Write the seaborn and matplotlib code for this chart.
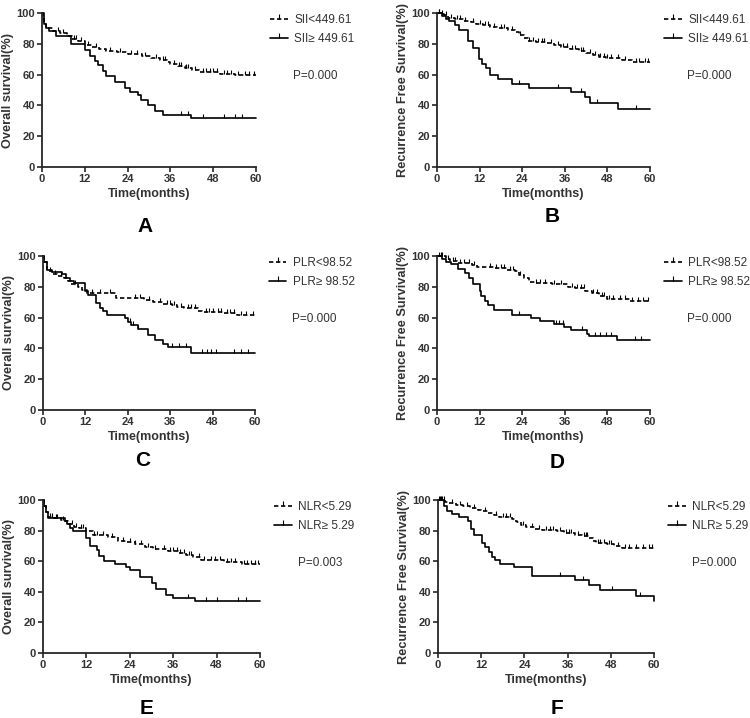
import numpy as np
import pandas as pd
import matplotlib
matplotlib.use("Agg")
import matplotlib.pyplot as plt
from matplotlib.lines import Line2D
import seaborn as sns

sns.set_style("ticks")
plt.rcParams["font.family"] = ["Liberation Sans", "DejaVu Sans"]

# ---- data (time in months, survival in %) ----
# A: overall survival by SII
A_lo_t = [0, 0.3, 0.6, 1.0, 3, 5, 7, 8.5, 10, 12, 14, 16, 18, 21, 24, 28, 30.5, 33, 35, 36, 38, 40, 42, 44, 50, 54, 60]
A_lo_s = [100, 97, 93, 90, 88, 87, 85, 83, 81.5, 79, 78, 76.5, 75.5, 74.5, 73.5, 72, 70.5, 69.5, 68.5, 67, 65.5, 64.5, 63, 61.5, 60.5, 59.5, 59.5]
A_lo_c = [4.5, 6, 9, 9.5, 11, 13, 15, 19, 22, 25, 26.5, 29, 32, 34, 34.5, 37, 38.5, 39, 40.5, 41, 43, 45, 46, 47, 48, 49, 51, 52, 53, 55, 57, 58, 59.5]
A_hi_t = [0, 0.5, 1.0, 2, 4, 8.2, 12, 13.4, 14.8, 15.6, 17, 18, 20.4, 23.2, 24.6, 26.9, 27.8, 29.7, 31.6, 34, 41.8, 60]
A_hi_s = [100, 93, 90, 88, 85, 80, 76, 72, 69, 66, 62.5, 59, 55, 51, 49, 46.5, 43.5, 40, 36.5, 34, 32, 32]
A_hi_c = [39, 41, 45, 51, 54, 56]

# B: recurrence free survival by SII
B_lo_t = [0, 1, 2, 3, 5, 7.5, 9.5, 11, 13, 15, 17, 20, 22, 23, 24.5, 25.5, 28, 31, 33, 35, 37.5, 40, 42, 44, 45.5, 47.5, 52, 55, 60]
B_lo_s = [100, 99.5, 98.5, 97, 96, 95, 94, 93, 92, 91, 90, 89, 87.5, 86, 84, 82, 81, 80.5, 79.5, 78, 76.5, 75.5, 74, 73, 71.5, 70.5, 69.5, 68.5, 68.5]
B_lo_c = [0.5, 1.5, 2.5, 4, 5.5, 6.5, 8, 10, 12, 13.5, 14.5, 16, 18, 19, 21, 23.5, 26, 27, 28.5, 29.5, 30, 32, 34, 35.5, 36.5, 38, 39, 40.5, 41, 43, 44.5, 46, 47, 48, 49, 51, 53, 56, 57, 58.5, 59.5]
B_hi_t = [0, 1.5, 2.5, 3.5, 5, 6.1, 8.7, 10, 11.7, 12.7, 13.9, 15, 17.2, 21.1, 26, 37.8, 41.8, 43, 51, 60]
B_hi_s = [100, 98, 96, 94.5, 92, 89, 82, 77, 70, 67, 64.5, 60, 57, 54, 51.5, 49, 45.5, 41.5, 37.5, 37.5]
B_hi_c = [0.5, 23, 34, 40.5, 45, 56]

# C: overall survival by PLR
C_lo_t = [0, 0.3, 1, 2.5, 4, 6, 7, 8, 10, 11, 12.5, 20.8, 28.5, 31, 34, 36.5, 38, 40, 44, 45, 51, 55, 60]
C_lo_s = [100, 96, 90, 88, 87, 85.5, 84, 82, 80, 78, 76, 73, 71.5, 70, 69, 68, 67, 66, 64.5, 63.5, 63, 61.5, 61.5]
C_lo_c = [2, 3.5, 5, 9, 14, 16, 19, 26, 27.5, 30, 33, 35, 36, 37, 39, 41, 42, 43, 46, 47, 48, 49.5, 50.5, 52, 53, 54, 56, 57.5, 59.5]
C_hi_t = [0, 0.3, 1, 2.5, 5.5, 6.5, 7.5, 8.9, 11.8, 12.7, 15.1, 16, 17, 18, 23.1, 24, 25, 26.9, 29.7, 31.6, 34, 35.5, 42, 60]
C_hi_s = [100, 96, 91, 89.5, 88, 86, 84, 82.3, 77, 74.7, 69.3, 66, 64, 61.7, 59.5, 57.4, 55, 52.4, 48.7, 45.5, 43, 41.2, 37, 37]
C_hi_c = [24.5, 25.5, 27, 36.5, 38.5, 40.5, 45, 46.5, 47.5, 49, 54, 56, 58]

# D: recurrence free survival by PLR
D_lo_t = [0, 2.4, 3.8, 5.6, 9.9, 11.3, 16, 19.7, 22, 23.2, 24.4, 25.8, 27.7, 32.4, 37, 38.9, 41.8, 43.7, 45.5, 47.9, 51.2, 54.5, 55.4, 60]
D_lo_s = [100, 98, 96.5, 95.2, 94, 93, 92, 91, 90.5, 87.7, 85.5, 83.3, 82.5, 82, 80, 79, 77, 75.8, 74, 72.3, 71.9, 71, 70.5, 70.5]
D_lo_c = [0.5, 1, 1.5, 3, 4.5, 5, 6.5, 7.5, 9, 10.5, 15, 16.5, 18, 19, 20.5, 21.5, 23.5, 28, 29, 30.5, 33, 35, 38, 39.5, 40.5, 41.5, 44, 45, 46.5, 47, 48.5, 49.5, 51.5, 53, 55, 56.5, 58, 59.5]
D_hi_t = [0, 1.5, 2.5, 4, 6, 8, 9, 10, 12, 12.5, 13.5, 14.5, 16, 21.1, 26.4, 29.1, 32.9, 35.7, 37.8, 42.3, 42.7, 50.7, 60]
D_hi_s = [100, 98, 96, 94.5, 91.5, 89, 85.5, 82, 77, 74, 71, 68, 65, 61.7, 59.5, 58, 56, 54, 52, 49.5, 48, 45.5, 45.5]
D_hi_c = [23, 33.5, 34.5, 35.5, 40.8, 44.5, 46, 47.5, 49, 55.7, 57.6]

# E: overall survival by NLR
E_lo_t = [0, 0.3, 0.8, 1.5, 3, 5, 6, 7, 8.5, 10, 12, 13.8, 17.9, 20.7, 23, 25.3, 28.1, 30.4, 34.5, 37.3, 39.6, 41.4, 43.8, 50.1, 55, 60]
E_lo_s = [100, 96, 92, 89, 88, 87, 86, 84, 82.5, 81.5, 79.5, 77.4, 75.6, 73.4, 72.3, 71.2, 69.5, 68, 66.9, 65.1, 64, 62.9, 60.8, 59.7, 58.2, 58.2]
E_lo_c = [2, 2.5, 3.5, 4, 5.5, 8, 9, 10.5, 11, 14, 15, 16.5, 19, 22, 24, 25.5, 27, 29, 31, 33.5, 35, 36, 37, 38, 39, 40.5, 41, 43, 44.5, 46.5, 47.5, 49, 51, 52, 53, 55.5, 56.5, 57.5, 58.5, 59.5]
E_hi_t = [0, 0.3, 0.8, 1.5, 6, 6.5, 7.5, 8.3, 12, 12.9, 15, 15.6, 17, 20, 23, 24, 26.7, 30, 31.3, 33.9, 35.9, 41.9, 60]
E_hi_s = [100, 96, 92, 88, 86, 84, 82, 80, 75, 70, 67, 63.5, 60, 58, 56, 54, 50, 46, 42, 38, 36, 34, 34]
E_hi_c = [40.2, 45, 48, 54, 56]

# F: recurrence free survival by NLR
F_lo_t = [0, 2, 3, 5, 7, 9, 11, 12, 14, 15.5, 17, 20.5, 21.5, 22, 23, 24.5, 27, 29, 33, 35, 38, 40, 42, 43, 44, 47, 49, 51, 60]
F_lo_s = [100, 99, 98, 97, 96, 95, 93.7, 92.6, 91.5, 90.4, 88.7, 87.5, 86.5, 85.5, 83.7, 82.1, 81.3, 80.4, 79.5, 78.4, 77.3, 76.3, 75.2, 73, 71.9, 71.2, 69.7, 68.6, 68.6]
F_lo_c = [0.3, 0.8, 1.2, 1.8, 4, 6, 8, 10, 13, 16, 18, 19, 20, 23.5, 26, 28, 30, 31, 32, 34, 35.5, 36.5, 37, 39, 40.5, 41, 41.5, 44.5, 45, 46, 47.5, 48, 50, 52, 53, 55, 57, 58.5, 59.5]
F_hi_t = [0, 1.8, 2.5, 3.9, 5.7, 8.3, 9.3, 9.9, 12.2, 13.1, 14.1, 15, 15.7, 17.3, 21, 26.1, 38.1, 41.9, 45.1, 55, 60]
F_hi_s = [100, 96, 93, 91, 89, 86, 81, 77, 72, 69, 66, 63, 60.5, 58, 56, 50.5, 47.5, 44.5, 41, 37, 34]
F_hi_c = [0.5, 34, 40.4, 48.2, 56.1]

legend_labels = {
    "SII": ["SII<449.61", "SII\u2265 449.61"],
    "PLR": ["PLR<98.52", "PLR\u2265 98.52"],
    "NLR": ["NLR<5.29", "NLR\u2265 5.29"],
}
p_values = ["P=0.000", "P=0.000", "P=0.000", "P=0.000", "P=0.003", "P=0.000"]
ylabels = ["Overall survival(%)", "Recurrence Free Survival(%)"]
panel_letters = ["A", "B", "C", "D", "E", "F"]

DASH = (0, (2.6, 1.6))
TXT = "#333333"


def draw_km(ax, t, s, c, dashed):
    t = np.asarray(t, dtype=float)
    s = np.asarray(s, dtype=float)
    df = pd.DataFrame({"time": t, "surv": s})
    sns.lineplot(data=df, x="time", y="surv", ax=ax, color="black", lw=1.2,
                 drawstyle="steps-post", estimator=None, sort=False,
                 linestyle=DASH if dashed else "-", clip_on=False)
    # censor ticks sit on the curve level at their time
    c = np.asarray(c, dtype=float)
    idx = np.searchsorted(t, c, side="right") - 1
    cens = pd.DataFrame({"time": c, "surv": s[idx]})
    sns.scatterplot(data=cens, x="time", y="surv", ax=ax, marker=2, s=10,
                    color="black", linewidth=0.8, clip_on=False)


fig = plt.figure(figsize=(7.5, 7.18), dpi=100)
W, H = 750, 718

# axes boxes in pixels: left, right, top, bottom
boxes = [
    (42, 256, 13, 167), (437, 650, 13, 167),
    (43, 255, 256, 410), (437, 650, 256, 410),
    (43, 260, 500, 653), (438, 654, 500, 653),
]
letter_pos = [(145, 227), (552, 217), (143, 460), (557, 462), (147, 708), (557, 708)]

panels = [
    (A_lo_t, A_lo_s, A_lo_c, A_hi_t, A_hi_s, A_hi_c, "SII"),
    (B_lo_t, B_lo_s, B_lo_c, B_hi_t, B_hi_s, B_hi_c, "SII"),
    (C_lo_t, C_lo_s, C_lo_c, C_hi_t, C_hi_s, C_hi_c, "PLR"),
    (D_lo_t, D_lo_s, D_lo_c, D_hi_t, D_hi_s, D_hi_c, "PLR"),
    (E_lo_t, E_lo_s, E_lo_c, E_hi_t, E_hi_s, E_hi_c, "NLR"),
    (F_lo_t, F_lo_s, F_lo_c, F_hi_t, F_hi_s, F_hi_c, "NLR"),
]

for i, (lo_t, lo_s, lo_c, hi_t, hi_s, hi_c, key) in enumerate(panels):
    l, r, tp, bt = boxes[i]
    ax = fig.add_axes([l / W, 1 - bt / H, (r - l) / W, (bt - tp) / H])
    draw_km(ax, lo_t, lo_s, lo_c, dashed=True)
    draw_km(ax, hi_t, hi_s, hi_c, dashed=False)

    ax.set_xlim(0, 60)
    ax.set_ylim(0, 100)
    ax.set_xticks([0, 12, 24, 36, 48, 60])
    ax.set_yticks([0, 20, 40, 60, 80, 100])
    ax.tick_params(direction="out", length=3.5, width=1.2, labelsize=8, pad=1.5,
                   labelcolor=TXT)
    for lab in ax.get_xticklabels() + ax.get_yticklabels():
        lab.set_fontweight("bold")
    sns.despine(ax=ax)
    for sp in ("left", "bottom"):
        ax.spines[sp].set_linewidth(1.3)

    ax.set_xlabel("Time(months)", fontsize=9, fontweight="bold", labelpad=3, color=TXT)
    ax.set_ylabel(ylabels[i % 2], fontsize=9.2, fontweight="bold", labelpad=2, color=TXT)

    handles = [
        Line2D([], [], color="black", lw=1.2, linestyle=DASH, marker=2, markersize=3.5, mew=0.8),
        Line2D([], [], color="black", lw=1.2, linestyle="-", marker=2, markersize=3.5, mew=0.8),
    ]
    ax.legend(handles, legend_labels[key], loc="upper left", bbox_to_anchor=(1.065, 0.995),
              frameon=False, fontsize=8.5, numpoints=1, handlelength=1.5,
              handletextpad=0.55, labelspacing=0.6, borderpad=0, borderaxespad=0,
              labelcolor=TXT)
    ax.text(1.175, 0.59, p_values[i], transform=ax.transAxes, fontsize=8.5,
            va="center", ha="left", color=TXT)

    lx, ly = letter_pos[i]
    fig.text(lx / W, 1 - ly / H, panel_letters[i], fontsize=15, fontweight="bold",
             ha="center", va="center", color="black")

fig.savefig("out.png", dpi=100)
